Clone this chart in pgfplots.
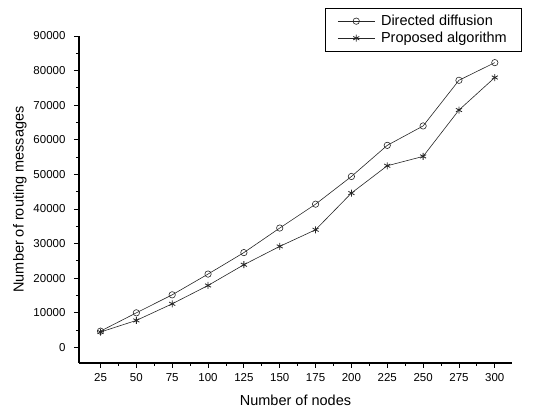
\documentclass[border=0pt]{standalone}
\usepackage{pgfplots}
\pgfplotsset{compat=1.18}
\usepackage{fontspec}
\setmainfont{Liberation Sans}
\begin{document}
\begin{tikzpicture}
\begin{axis}[
  name=ax,
  scale only axis,
  width=433pt, height=327pt,
  xmin=10, xmax=312,
  ymin=-4500, ymax=90000,
  axis lines*=left,
  axis line style={line width=1.2pt},
  tick align=outside,
  tick style={line width=0.9pt, black},
  major tick length=5pt,
  minor tick length=3pt,
  xtick={25,50,...,300},
  ytick={0,10000,...,90000},
  minor x tick num=1,
  minor y tick num=1,
  scaled ticks=false,
  /pgf/number format/assume math mode=true,
  /pgf/number format/1000 sep={},
  tick label style={font=\fontsize{11.5}{12}\selectfont},
  yticklabel style={xshift=-5pt},
  xticklabel style={yshift=-2pt},
  label style={font=\fontsize{14.5}{16}\selectfont},
  xlabel={Number of nodes},
  xlabel style={yshift=-6pt},
  ylabel={Number of routing messages},
  clip=false,
  legend style={at={(axis description cs:1.021,1.086)}, anchor=north east,
    draw=black, line width=0.6pt, font=\fontsize{14.5}{16}\selectfont,
    inner xsep=12pt, inner ysep=5pt, row sep=1pt, column sep=4pt},
  legend cell align=left,
  legend image code/.code={
    \draw[#1] (0cm,0cm) -- (1.3cm,0cm);
    \draw[#1, mark repeat=1] plot coordinates {(0.65cm,0cm)};
  },
]
\addplot[black!85, line width=0.6pt, mark=o, mark size=3.2pt, mark options={fill=white, line width=0.6pt}] coordinates {
(25,4700) (50,10000) (75,15200) (100,21200) (125,27400) (150,34500)
(175,41400) (200,49400) (225,58400) (250,64000) (275,77200) (300,82300)
};
\addlegendentry{Directed diffusion}
\addplot[black!85, line width=0.6pt, mark=asterisk, mark size=3.5pt, mark options={line width=0.8pt}] coordinates {
(25,4450) (50,7800) (75,12600) (100,17900) (125,23900) (150,29200)
(175,34000) (200,44600) (225,52500) (250,55200) (275,68600) (300,78000)
};
\addlegendentry{Proposed algorithm}
\end{axis}
\path (ax.south west) ++(-79pt,-49pt) coordinate (bl);
\path (ax.north east) ++(33pt,36pt) coordinate (tr);
\path (bl) rectangle (tr);
\end{tikzpicture}
\end{document}
